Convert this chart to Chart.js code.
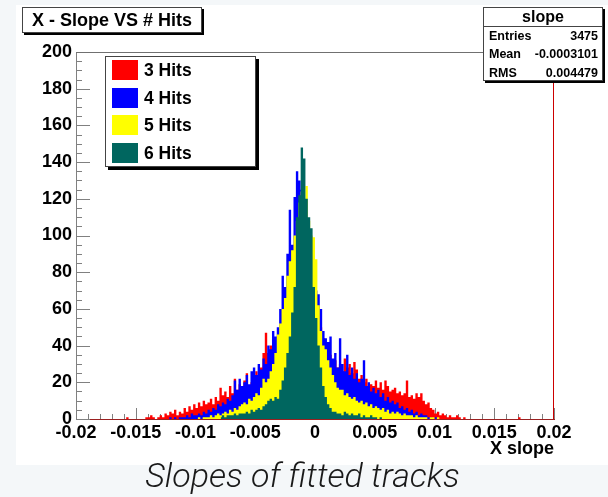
<!DOCTYPE html>
<html>
<head>
<meta charset="utf-8">
<script src="https://cdn.jsdelivr.net/npm/chart.js@4.4.1/dist/chart.umd.min.js"></script>
<style>
  html, body { margin: 0; padding: 0; }
  body { width: 608px; height: 497px; background: #f4f7f9; position: relative; overflow: hidden;
         font-family: 'Liberation Sans', Arial, sans-serif; }
  #panel { position: absolute; left: 16px; top: 5px; width: 592px; height: 460px; background: #fff; }
  #chart { position: absolute; left: 0; top: 0; }
  .box { position: absolute; background: #fff; border: 1px solid #444; box-shadow: 2px 2px 0 #000;
         font-weight: bold; color: #000; box-sizing: border-box; }
  #title { left: 22px; top: 7px; width: 180px; height: 26px; font-size: 18px; line-height: 24px; text-align: center; }
  #stats { left: 483px; top: 7px; width: 120px; height: 74px; font-size: 12.5px; }
  #stats .head { height: 18px; border-bottom: 1px solid #444; text-align: center; font-size: 16px; line-height: 18px; }
  #stats .row { display: flex; justify-content: space-between; padding: 0 4px 0 5px; height: 18.3px; line-height: 18.3px; }
  #legend { left: 105px; top: 56px; width: 151px; height: 111px; box-shadow: 3px 3px 0 #000; }
  #legend .item { position: absolute; left: 6px; height: 20px; font-size: 17.5px; line-height: 20px; }
  #legend .sw { display: inline-block; width: 26px; height: 20px; vertical-align: top; margin-right: 6px; }
  #caption { position: absolute; left: 0; width: 605px; top: 455px; text-align: center;
             font-family: Roboto, 'Open Sans', sans-serif; font-style: italic; font-weight: 300;
             font-size: 34px; color: #1a1a1a; }
</style>
</head>
<body>
<div id="panel"></div>
<canvas id="chart" width="608" height="497"></canvas>
<div class="box" id="title">X - Slope VS # Hits</div>
<div class="box" id="stats">
  <div class="head">slope</div>
  <div class="row"><span>Entries</span><span>3475</span></div>
  <div class="row"><span>Mean</span><span>-0.0003101</span></div>
  <div class="row"><span>RMS</span><span>0.004479</span></div>
</div>
<div class="box" id="legend"></div>
<div id="caption">Slopes of fitted tracks</div>
<script>
// histogram binning: 200 bins from -0.02 to 0.02
const binLow = -0.02;
const binWidth = 0.0002;

const seriesNames = ['3 Hits', '4 Hits', '5 Hits', '6 Hits'];
const seriesColors = ['#ff0000', '#0000ff', '#ffff00', '#00665f'];

// counts per bin, each list starts at the given bin index
const hits3Start = 20;
const hits3 = [
  0, 1, 0, 0, 0,   0, 0, 0, 0, 1,   1, 2, 1, 0, 1,   2, 1, 3, 2, 4,
  3, 5, 2, 4, 3,   6, 4, 7, 5, 8,   6, 9, 7, 10, 8,  9, 11, 8, 12, 10,
  17, 13, 15, 12, 18,  14, 22, 16, 19, 15,  21, 25, 18, 20, 23,  26, 22, 28, 36, 47,
  36, 40, 33, 38, 42,  45, 50, 55, 60, 65,  68, 70, 72, 70, 68,  66, 64, 62, 60, 58,
  56, 54, 50, 44, 42,  38, 35, 30, 32, 28,  30, 26, 33, 28, 30,  25, 31, 27, 22, 24,
  20, 22, 18, 19, 18,  21, 17, 20, 16, 21,  18, 15, 16, 17, 14,  15, 13, 14, 21, 12,
  13, 11, 14, 12, 14,  10, 8, 9, 6, 5,  3, 4, 2, 3, 2,  1, 2, 1, 1, 2,
  1, 0, 1, 0, 0,  0, 0, 0, 0, 0,  0, 0, 0, 0, 0,  0, 0, 0, 0, 0,
  0, 0, 0, 0, 0,  1, 0
];
const hits4Start = 38;
const hits4 = [
  0, 1,
  0, 1, 0, 1, 1,  1, 2, 1, 3, 2,  2, 3, 2, 4, 3,  5, 4, 6, 5, 8,
  7, 9, 8, 11, 10,  13, 21, 16, 22, 18,  20, 24, 19, 26, 28,  24, 30, 27, 33, 30,
  40, 38, 48, 45, 50,  60, 78, 72, 90, 114,  95, 121, 135, 130, 125,  112, 100, 92, 85, 78,
  70, 68, 60, 48, 44,  42, 45, 33, 36, 28,  44, 30, 26, 35, 24,  28, 22, 25, 20, 22,
  32, 18, 20, 15, 17,  14, 16, 12, 14, 10,  12, 9, 10, 8, 9,  6, 7, 5, 6, 4,
  5, 3, 4, 2, 3,  2, 2, 1, 1, 0,  1, 0
];
const hits5Start = 50;
const hits5 = [
  0, 1, 0, 1, 1,  1, 2, 1, 2, 3,  2, 3, 4, 3, 5,  4, 6, 5, 7, 8,
  9, 8, 11, 10, 12,  14, 13, 17, 22, 20,  22, 26, 30, 36, 46,  52, 60, 66, 78, 86,
  92, 100, 108, 118, 124,  120, 127, 108, 100, 99,  87, 62, 48, 40, 38,  32, 28, 24, 20, 17,
  16, 16, 13, 14, 12,  11, 12, 10, 9, 10,  8, 9, 7, 8, 6,  7, 6, 5, 6, 4,
  5, 3, 4, 3, 4,  3, 2, 3, 2, 2,  2, 1, 2, 1, 1,  1, 1, 0, 1, 1,
  0, 1, 0
];
const hits6Start = 60;
const hits6 = [
  1, 2, 1, 2, 2,  2, 3, 2, 3, 3,  3, 4, 3, 5, 4,  5, 6, 5, 7, 8,
  10, 11, 10, 12, 11,  16, 21, 28, 36, 45,  58, 72, 110, 122, 148,  142, 120, 110, 104, 72,
  55, 40, 28, 18, 12,  8, 6, 4, 4, 3,  3, 2, 4, 3, 2,  3, 2, 2, 3, 1,
  2, 1, 1, 2, 1,  1, 0, 1, 0, 0
];

const xTickLabels = ['-0.02', '-0.015', '-0.01', '-0.005', '0', '0.005', '0.01', '0.015', '0.02'];

function toPoints(start, counts) {
  return counts.map((c, k) => ({ x: binLow + (start + k + 0.5) * binWidth, y: c }));
}

const histStarts = [hits3Start, hits4Start, hits5Start, hits6Start];
const histCounts = [hits3, hits4, hits5, hits6];

// ROOT style legend
const legendEl = document.getElementById('legend');
seriesNames.forEach((name, i) => {
  const item = document.createElement('div');
  item.className = 'item';
  item.style.top = (3 + i * 27.5) + 'px';
  item.innerHTML = '<span class="sw" style="background:' + seriesColors[i] + '"></span>' + name;
  legendEl.appendChild(item);
});

// tick marks inside the frame, like ROOT
const rootAxes = {
  id: 'rootAxes',
  beforeDatasetsDraw(chart) {
    const { ctx, chartArea: a, scales: { x, y } } = chart;
    ctx.save();
    ctx.strokeStyle = '#808080';
    ctx.lineWidth = 1;
    ctx.beginPath();
    for (let k = -20; k <= 20; k++) {
      const px = Math.round(x.getPixelForValue(k / 1000)) + 0.5;
      const len = k % 5 === 0 ? 11 : 5;
      ctx.moveTo(px, a.bottom);
      ctx.lineTo(px, a.bottom - len);
    }
    for (let v = 0; v <= 200; v += 5) {
      const py = Math.round(y.getPixelForValue(v)) + 0.5;
      const len = v % 20 === 0 ? 14 : 6;
      ctx.moveTo(a.left, py);
      ctx.lineTo(a.left + len, py);
    }
    ctx.stroke();
    ctx.restore();
  },
  afterDraw(chart) {
    const { ctx, chartArea: a } = chart;
    ctx.save();
    ctx.lineWidth = 1;
    ctx.strokeStyle = '#707070';
    ctx.beginPath();
    ctx.moveTo(a.left, a.top + 0.5);
    ctx.lineTo(a.right, a.top + 0.5);
    ctx.stroke();
    ctx.strokeStyle = '#cc0000';
    ctx.beginPath();
    ctx.moveTo(a.right - 0.5, a.top);
    ctx.lineTo(a.right - 0.5, a.bottom);
    ctx.stroke();
    ctx.restore();
  }
};

Chart.defaults.font.family = "'Liberation Sans', Arial, sans-serif";
Chart.defaults.color = '#000';

const ctx = document.getElementById('chart').getContext('2d');
new Chart(ctx, {
  type: 'line',
  data: {
    datasets: seriesNames.map((name, i) => ({
      label: name,
      data: toPoints(histStarts[i], histCounts[i]),
      stepped: 'middle',
      fill: 'origin',
      backgroundColor: seriesColors[i],
      borderColor: seriesColors[i],
      borderWidth: 0,
      pointRadius: 0,
      order: seriesNames.length - i
    }))
  },
  options: {
    responsive: false,
    animation: false,
    events: [],
    layout: { padding: { left: 0, top: 52, right: 54, bottom: 0 } },
    plugins: { legend: { display: false }, tooltip: { enabled: false } },
    scales: {
      x: {
        type: 'linear',
        min: -0.02,
        max: 0.02,
        grid: { display: false, drawTicks: false },
        border: { color: '#9a2020' },
        ticks: {
          stepSize: 0.005,
          autoSkip: false,
          maxRotation: 0,
          padding: 3,
          font: { size: 18, weight: 'bold' },
          callback: (v) => xTickLabels[Math.round((v + 0.02) / 0.005)]
        },
        title: {
          display: true,
          text: 'X slope',
          align: 'end',
          font: { size: 18, weight: 'bold' },
          padding: { top: 0, bottom: 37 }
        },
        afterFit: (s) => { s.height = 78; }
      },
      y: {
        min: 0,
        max: 200,
        grid: { display: false, drawTicks: false },
        border: { color: '#808080' },
        ticks: { stepSize: 20, padding: 4, font: { size: 18, weight: 'bold' } },
        afterFit: (s) => { s.width = 76; }
      }
    }
  },
  plugins: [rootAxes]
});
</script>
</body>
</html>
